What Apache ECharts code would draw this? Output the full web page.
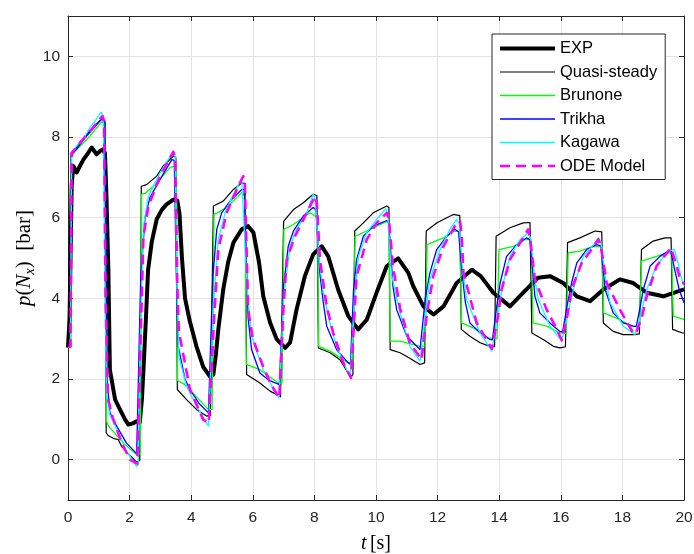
<!DOCTYPE html>
<html><head><meta charset="utf-8">
<script src="https://cdn.jsdelivr.net/npm/echarts@6/dist/echarts.min.js"></script>
<style>html,body{margin:0;padding:0;background:#fff}#c{width:694px;height:554px}</style>
</head><body><div id="c"></div>
<script>
const xTicks = [0,2,4,6,8,10,12,14,16,18,20];
const yTicks = [0,2,4,6,8,10];
const seriesNames = ['EXP','Quasi-steady','Brunone','Trikha','Kagawa','ODE Model'];

const expData = [[0,2.78],[0.05,3.5],[0.12,6.8],[0.17,7.28],[0.28,7.12],[0.4,7.3],[0.5,7.44],[0.65,7.6],[0.77,7.74],[0.93,7.57],[1.05,7.66],[1.13,7.69],[1.2,7.6],[1.25,6.5],[1.31,4.71],[1.36,2.23],[1.53,1.49],[1.69,1.24],[1.85,1.0],[1.96,0.87],[2.1,0.9],[2.23,0.95],[2.33,0.92],[2.4,1.5],[2.45,2.23],[2.53,3.5],[2.6,4.7],[2.72,5.4],[2.88,5.96],[3.05,6.2],[3.2,6.33],[3.42,6.45],[3.55,6.42],[3.62,6.1],[3.7,5.0],[3.8,4.0],[3.95,3.45],[4.17,2.81],[4.39,2.3],[4.6,2.07],[4.72,2.11],[4.8,2.6],[4.88,3.23],[5.04,4.22],[5.2,4.9],[5.37,5.38],[5.64,5.71],[5.85,5.79],[6.02,5.63],[6.2,4.9],[6.34,4.05],[6.56,3.4],[6.78,2.98],[7.05,2.77],[7.21,2.9],[7.42,3.72],[7.69,4.55],[7.96,5.09],[8.24,5.29],[8.45,5.04],[8.77,4.22],[9.1,3.56],[9.42,3.23],[9.7,3.47],[10.02,4.14],[10.35,4.8],[10.72,4.99],[11.05,4.63],[11.21,4.3],[11.54,3.8],[11.87,3.6],[12.19,3.8],[12.62,4.38],[13.11,4.71],[13.4,4.55],[13.81,4.14],[14.35,3.8],[14.78,4.14],[15.26,4.51],[15.65,4.55],[16.08,4.38],[16.52,4.05],[16.95,3.93],[17.38,4.22],[17.92,4.47],[18.35,4.38],[18.79,4.14],[19.33,4.05],[20,4.22]];

const quasiData = [[0,2.8],[0.08,2.8],[0.1,7.6],[0.28,7.75],[0.5,7.95],[0.7,8.15],[0.9,8.3],[1.12,8.47],[1.2,8.4],[1.24,0.67],[1.3,0.6],[1.5,0.52],[1.63,0.5],[1.74,0.33],[1.95,0.15],[2.23,-0.06],[2.33,-0.02],[2.38,6.78],[2.55,6.82],[2.88,7.03],[3.09,7.28],[3.42,7.53],[3.5,7.5],[3.55,1.74],[3.85,1.49],[4.18,1.24],[4.5,1.08],[4.62,1.1],[4.72,6.29],[5.04,6.41],[5.37,6.7],[5.64,6.86],[5.75,6.85],[5.8,2.11],[6.23,1.9],[6.56,1.7],[6.78,1.61],[6.9,1.56],[7.0,5.91],[7.32,6.2],[7.64,6.37],[7.96,6.58],[8.08,6.55],[8.13,2.77],[8.51,2.65],[8.83,2.48],[9.16,2.07],[9.25,2.1],[9.31,5.67],[9.59,5.87],[9.91,6.12],[10.35,6.29],[10.42,6.25],[10.46,2.73],[10.78,2.65],[11.0,2.56],[11.43,2.36],[11.58,2.4],[11.63,5.67],[11.97,5.87],[12.3,6.0],[12.51,6.08],[12.72,6.05],[12.77,3.23],[13.05,3.06],[13.38,2.9],[13.7,2.81],[13.85,2.8],[13.9,5.54],[14.35,5.75],[14.78,5.87],[15.0,5.88],[15.06,3.14],[15.43,2.98],[15.76,2.81],[15.97,2.77],[16.15,2.8],[16.22,5.38],[16.62,5.5],[17.11,5.67],[17.33,5.65],[17.38,3.39],[17.7,3.18],[18.03,3.1],[18.4,3.1],[18.55,3.12],[18.62,5.21],[19.0,5.42],[19.38,5.5],[19.58,5.5],[19.63,3.23],[19.95,3.14],[20,3.14]];

const brunoneData = [[0,2.8],[0.08,2.8],[0.1,7.56],[0.3,7.7],[0.61,7.94],[0.85,8.15],[1.1,8.38],[1.2,8.3],[1.25,0.95],[1.32,0.83],[1.8,0.41],[2.23,0.12],[2.35,0.15],[2.39,6.58],[2.5,6.6],[2.88,6.86],[3.31,7.24],[3.45,7.28],[3.52,7.2],[3.56,1.96],[3.8,1.86],[4.56,1.24],[4.68,1.25],[4.74,6.08],[4.85,6.12],[5.15,6.25],[5.64,6.62],[5.74,6.55],[5.79,2.36],[6.23,2.23],[6.83,1.9],[6.95,1.9],[7.01,5.71],[7.32,5.83],[7.86,6.12],[8.02,6.04],[8.1,6.0],[8.14,2.81],[8.51,2.69],[9.1,2.4],[9.25,2.42],[9.32,5.54],[9.81,5.71],[10.35,5.91],[10.42,5.88],[10.46,2.94],[10.78,2.94],[11.43,2.81],[11.6,2.82],[11.66,5.33],[12.19,5.5],[12.56,5.67],[12.72,5.65],[12.78,3.39],[13.27,3.23],[13.65,3.02],[13.93,3.0],[13.99,5.21],[14.46,5.29],[14.84,5.46],[15.04,5.45],[15.1,3.39],[15.54,3.31],[15.97,3.14],[16.18,3.13],[16.24,5.13],[16.62,5.17],[17.06,5.29],[17.33,5.28],[17.39,3.64],[17.92,3.47],[18.3,3.31],[18.55,3.3],[18.62,4.92],[19.11,5.04],[19.44,5.13],[19.6,5.12],[19.65,3.56],[20,3.48]];

const trikhaData = [[0,2.8],[0.08,2.8],[0.11,7.55],[0.3,7.72],[0.55,7.98],[0.75,8.15],[1.1,8.45],[1.2,8.35],[1.27,2.0],[1.36,1.17],[1.58,0.83],[1.9,0.41],[2.23,0.15],[2.27,0.12],[2.36,4.5],[2.5,6.0],[2.66,6.5],[2.99,6.95],[3.37,7.44],[3.45,7.42],[3.52,4.5],[3.58,2.81],[3.8,1.99],[3.96,1.74],[4.25,1.4],[4.56,1.16],[4.7,4.5],[4.83,5.71],[4.99,6.12],[5.26,6.41],[5.64,6.7],[5.72,6.7],[5.85,3.5],[5.96,2.73],[6.23,2.15],[6.5,1.98],[6.86,1.86],[7.0,4.3],[7.15,5.29],[7.32,5.67],[7.64,6.04],[7.96,6.25],[8.05,6.2],[8.18,4.6],[8.29,3.89],[8.4,3.31],[8.72,2.73],[9.1,2.4],[9.17,2.37],[9.27,4.2],[9.37,4.96],[9.59,5.54],[9.91,5.79],[10.35,5.93],[10.42,5.85],[10.55,4.3],[10.67,3.72],[11.0,3.06],[11.43,2.73],[11.48,2.72],[11.6,4.0],[11.75,4.63],[11.97,5.21],[12.3,5.54],[12.56,5.71],[12.68,5.65],[12.8,4.6],[12.9,3.9],[13.05,3.39],[13.38,3.14],[13.7,2.98],[13.78,2.97],[13.92,3.8],[14.03,4.38],[14.24,5.04],[14.57,5.33],[14.89,5.5],[15.0,5.45],[15.16,4.05],[15.32,3.64],[15.65,3.39],[15.97,3.18],[16.06,3.17],[16.2,3.8],[16.35,4.38],[16.52,4.88],[16.84,5.21],[17.16,5.33],[17.3,5.3],[17.44,4.22],[17.7,3.64],[18.03,3.39],[18.35,3.31],[18.45,3.3],[18.58,3.8],[18.68,4.22],[18.9,4.8],[19.22,5.04],[19.49,5.17],[19.58,5.15],[19.7,4.7],[19.85,4.2],[20,3.89]];

const kagawaData = [[0,2.8],[0.08,2.8],[0.12,7.6],[0.28,7.78],[0.55,8.02],[0.71,8.23],[0.9,8.42],[1.07,8.62],[1.15,8.5],[1.2,4.0],[1.26,1.6],[1.36,1.1],[1.69,0.58],[1.9,0.21],[2.23,-0.17],[2.28,-0.12],[2.36,3.5],[2.45,5.79],[2.61,6.53],[2.99,7.11],[3.42,7.65],[3.48,7.5],[3.53,4.5],[3.6,2.56],[3.85,1.82],[4.18,1.32],[4.56,0.83],[4.72,3.8],[4.88,5.46],[5.1,6.12],[5.37,6.58],[5.64,6.97],[5.7,6.95],[5.82,4.2],[5.96,3.06],[6.34,2.23],[6.6,1.85],[6.85,1.53],[7.0,4.0],[7.21,5.29],[7.42,5.71],[7.75,6.12],[7.96,6.58],[8.03,6.45],[8.15,5.0],[8.29,4.14],[8.5,3.4],[8.72,2.81],[9.16,2.03],[9.3,4.0],[9.43,5.04],[9.7,5.63],[10.02,5.96],[10.32,6.22],[10.38,6.1],[10.5,4.6],[10.78,3.64],[11.1,2.81],[11.43,2.44],[11.6,3.6],[11.75,4.47],[12.08,5.21],[12.4,5.71],[12.62,5.96],[12.7,5.85],[12.8,4.8],[12.94,3.97],[13.38,3.14],[13.76,2.69],[13.95,3.6],[14.13,4.38],[14.35,5.04],[14.68,5.46],[14.93,5.62],[15.02,5.5],[15.15,4.5],[15.27,3.97],[15.65,3.31],[16.03,2.94],[16.25,3.7],[16.46,4.38],[16.73,5.04],[17.06,5.33],[17.22,5.5],[17.3,5.4],[17.45,4.5],[17.6,3.89],[18.03,3.31],[18.41,3.1],[18.6,3.6],[18.79,4.22],[19.11,4.8],[19.44,5.13],[19.68,5.22],[19.8,4.9],[19.9,4.55],[20,4.3]];

const odeData = [[0,2.8],[0.08,2.8],[0.12,7.6],[0.28,7.76],[0.55,8.0],[0.8,8.22],[1.0,8.42],[1.12,8.52],[1.17,8.4],[1.22,4.0],[1.3,1.5],[1.45,1.05],[1.74,0.42],[2.01,0.0],[2.25,-0.1],[2.29,-0.08],[2.37,3.3],[2.45,5.54],[2.61,6.29],[2.99,7.03],[3.42,7.63],[3.48,7.5],[3.55,4.3],[3.6,3.18],[3.96,1.74],[4.39,0.99],[4.57,0.91],[4.75,3.6],[4.88,5.21],[5.15,6.12],[5.48,6.7],[5.69,7.03],[5.74,6.9],[5.85,3.72],[6.0,3.0],[6.34,2.3],[6.6,1.85],[6.86,1.53],[7.0,3.8],[7.1,4.96],[7.37,5.54],[7.75,6.12],[8.02,6.53],[8.08,6.35],[8.18,4.96],[8.4,3.8],[8.61,3.14],[8.94,2.4],[9.19,2.03],[9.3,3.6],[9.37,4.55],[9.7,5.46],[10.02,5.87],[10.35,6.12],[10.42,5.95],[10.55,4.8],[10.78,3.76],[11.1,2.89],[11.48,2.48],[11.65,3.6],[11.86,4.55],[12.19,5.29],[12.56,5.79],[12.73,5.91],[12.78,5.6],[12.84,4.63],[13.27,3.39],[13.65,2.9],[13.76,2.75],[13.95,3.5],[14.08,4.22],[14.35,4.96],[14.68,5.38],[14.94,5.71],[15.0,5.5],[15.16,4.47],[15.54,3.72],[15.87,3.23],[16.03,2.96],[16.22,3.6],[16.35,4.22],[16.68,4.88],[17.0,5.21],[17.22,5.46],[17.3,5.3],[17.49,4.38],[17.92,3.72],[18.35,3.14],[18.43,3.12],[18.62,3.5],[18.79,4.05],[19.11,4.8],[19.58,5.25],[19.72,4.9],[19.85,4.55],[20,4.35]];

const font = '"Liberation Sans", Arial, Helvetica, sans-serif';
const serif = '"Liberation Serif", "DejaVu Serif", serif';
const axisColor = '#262626';
const gridColor = '#e3e3e3';

const styles = [
  {color: '#000000', width: 4, type: 'solid'},
  {color: '#000000', width: 1.2, type: 'solid'},
  {color: '#00ff00', width: 1.3, type: 'solid'},
  {color: '#0000ff', width: 1.3, type: 'solid'},
  {color: '#00ffff', width: 1.3, type: 'solid'},
  {color: '#ff00ff', width: 2.6, type: [10, 6]}
];
const datasets = [expData, quasiData, brunoneData, trikhaData, kagawaData, odeData];

function mk(i) {
  const s = styles[i];
  return {name: seriesNames[i], type: 'line', data: datasets[i], symbol: 'none', showSymbol: false,
    lineStyle: {color: s.color, width: s.width, type: s.type, cap: 'butt', join: 'round'},
    itemStyle: {color: s.color}, animation: false, silent: true, clip: true};
}

const chart = echarts.init(document.getElementById('c'), null, {renderer: 'canvas'});
const option = {
  animation: false,
  backgroundColor: '#fff',
  grid: {left: 68, right: 10, top: 16, bottom: 54, containLabel: false, outerBoundsMode: 'none'},
  legend: {
    left: 492, top: 34, orient: 'vertical', itemWidth: 55, itemHeight: 14, itemGap: 6.5,
    padding: [6, 8, 5, 6], borderColor: axisColor, borderWidth: 1, backgroundColor: '#fff',
    itemStyle: {opacity: 0},
    textStyle: {fontSize: 16.5, fontFamily: font, color: '#000', lineHeight: 14},
    data: seriesNames.map(function (n, i) {
      return {name: n, itemStyle: {opacity: 0},
        lineStyle: {color: styles[i].color, width: styles[i].width, type: styles[i].type}};
    })
  },
  xAxis: [{
    type: 'value', min: xTicks[0], max: xTicks[xTicks.length - 1], interval: 2,
    axisLine: {onZero: false, lineStyle: {color: axisColor, width: 1}},
    axisTick: {inside: true, length: 5, lineStyle: {color: axisColor}},
    axisLabel: {color: axisColor, fontSize: 15.5, fontFamily: font, margin: 10},
    splitLine: {show: true, lineStyle: {color: gridColor, width: 1}},
    name: '{i|t} {r|[s]}', nameLocation: 'middle', nameGap: 34, nameMoveOverlap: false,
    nameTextStyle: {rich: {
      i: {fontFamily: serif, fontStyle: 'italic', fontSize: 20, color: '#000'},
      r: {fontFamily: serif, fontSize: 20, color: '#000'}
    }}
  }, {
    type: 'value', position: 'top', min: xTicks[0], max: xTicks[xTicks.length - 1], interval: 2,
    axisLine: {onZero: false, lineStyle: {color: axisColor, width: 1}},
    axisTick: {inside: true, length: 5, lineStyle: {color: axisColor}},
    axisLabel: {show: false}, splitLine: {show: false}
  }],
  yAxis: [{
    type: 'value', min: -1, max: 11,
    axisLine: {onZero: false, lineStyle: {color: axisColor, width: 1}},
    axisTick: {inside: true, length: 5, lineStyle: {color: axisColor}, customValues: yTicks},
    axisLabel: {color: axisColor, fontSize: 15.5, fontFamily: font, margin: 8, customValues: yTicks},
    splitLine: {show: true, lineStyle: {color: gridColor, width: 1}},
    name: '{i|p}{r|(}{i|N}{s|x}{r|)  [bar]}', nameLocation: 'middle', nameGap: 31, nameMoveOverlap: false,
    nameTextStyle: {rich: {
      i: {fontFamily: serif, fontStyle: 'italic', fontSize: 21, color: '#000', lineHeight: 26},
      r: {fontFamily: serif, fontSize: 21, color: '#000', lineHeight: 26},
      s: {fontFamily: serif, fontStyle: 'italic', fontSize: 14, color: '#000', lineHeight: 26, verticalAlign: 'bottom'}
    }}
  }, {
    type: 'value', position: 'right', min: -1, max: 11,
    axisLine: {onZero: false, lineStyle: {color: axisColor, width: 1}},
    axisTick: {inside: true, length: 5, lineStyle: {color: axisColor}, customValues: yTicks},
    axisLabel: {show: false}, splitLine: {show: false}
  }],
  series: [0, 1, 2, 3, 4, 5].map(mk)
};
chart.setOption(option);
</script></body></html>
